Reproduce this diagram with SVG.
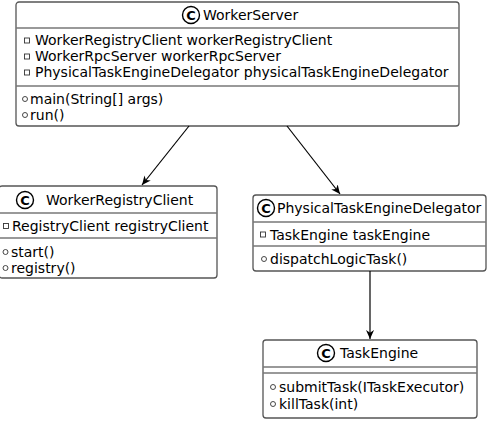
<svg xmlns="http://www.w3.org/2000/svg" width="499" height="422" viewBox="0 0 499 422">
<defs>
<style>
.box{fill:#fff;stroke:#555;stroke-width:1.3}
.div{stroke:#777;stroke-width:1.3}
text{font-family:"DejaVu Sans","Verdana",sans-serif;font-size:14px;fill:#000}
.ic{fill:none;stroke:#000;stroke-width:1.4}
.fi{fill:none;stroke:#333;stroke-width:0.9}
.mi{fill:none;stroke:#333;stroke-width:0.9}
.cl{font-weight:bold;font-size:13px}
.edge{stroke:#000;stroke-width:1.2;fill:none}
</style>
<marker id="arr" viewBox="0 0 10 10" refX="10" refY="5" markerWidth="9" markerHeight="9" orient="auto" markerUnits="userSpaceOnUse">
<path d="M0,0.5 L10,5 L0,9.5 L3,5 z" fill="#000"/>
</marker>
</defs>
<g id="WorkerServer">
<rect class="box" x="16" y="2" width="443" height="124" rx="3"/>
<line class="div" x1="16" y1="28" x2="459" y2="28"/>
<line class="div" x1="16" y1="86" x2="459" y2="86"/>
<circle class="ic" cx="191" cy="15" r="8.5"/>
<text class="cl" x="191" y="19.5" text-anchor="middle">C</text>
<text x="203" y="20">WorkerServer</text>
<rect class="fi" x="24.5" y="38" width="5" height="5"/>
<text x="35" y="45">WorkerRegistryClient workerRegistryClient</text>
<rect class="fi" x="24.5" y="54" width="5" height="5"/>
<text x="35" y="61">WorkerRpcServer workerRpcServer</text>
<rect class="fi" x="24.5" y="70" width="5" height="5"/>
<text x="35" y="77">PhysicalTaskEngineDelegator physicalTaskEngineDelegator</text>
<circle class="mi" cx="25" cy="99" r="2.5"/>
<text x="30" y="104">main(String[] args)</text>
<circle class="mi" cx="25" cy="115" r="2.5"/>
<text x="30" y="120">run()</text>
</g>
<g id="WorkerRegistryClient">
<rect class="box" x="-1" y="186" width="218" height="92" rx="3"/>
<line class="div" x1="-1" y1="213" x2="217" y2="213"/>
<line class="div" x1="-1" y1="238" x2="217" y2="238"/>
<circle class="ic" cx="25" cy="200" r="8.5"/>
<text class="cl" x="25" y="204.5" text-anchor="middle">C</text>
<text x="46" y="205">WorkerRegistryClient</text>
<rect class="fi" x="3.5" y="223.5" width="5" height="5"/>
<text x="12" y="231">RegistryClient registryClient</text>
<circle class="mi" cx="5.5" cy="252" r="2.5"/>
<text x="11" y="257">start()</text>
<circle class="mi" cx="5.5" cy="268" r="2.5"/>
<text x="11" y="273">registry()</text>
</g>
<g id="PhysicalTaskEngineDelegator">
<rect class="box" x="253" y="195" width="233" height="76" rx="3"/>
<line class="div" x1="253" y1="222" x2="486" y2="222"/>
<line class="div" x1="253" y1="246" x2="486" y2="246"/>
<circle class="ic" cx="266" cy="208" r="8.5"/>
<text class="cl" x="266" y="212.5" text-anchor="middle">C</text>
<text x="277" y="213">PhysicalTaskEngineDelegator</text>
<rect class="fi" x="260.5" y="232" width="5" height="5"/>
<text x="270" y="240">TaskEngine taskEngine</text>
<circle class="mi" cx="264" cy="259" r="2.5"/>
<text x="270" y="264">dispatchLogicTask()</text>
</g>
<g id="TaskEngine">
<rect class="box" x="263" y="340" width="214" height="78" rx="3"/>
<line class="div" x1="263" y1="367" x2="477" y2="367"/>
<line class="div" x1="263" y1="373" x2="477" y2="373"/>
<circle class="ic" cx="326" cy="353" r="8.5"/>
<text class="cl" x="326" y="357.5" text-anchor="middle">C</text>
<text x="340" y="358">TaskEngine</text>
<circle class="mi" cx="273" cy="387" r="2.5"/>
<text x="279" y="392">submitTask(ITaskExecutor)</text>
<circle class="mi" cx="273" cy="404" r="2.5"/>
<text x="279" y="409">killTask(int)</text>
</g>
<g id="connectors">
<line class="edge" x1="189" y1="126" x2="142" y2="185" marker-end="url(#arr)"/>
<line class="edge" x1="287" y1="126" x2="340" y2="194" marker-end="url(#arr)"/>
<line class="edge" x1="370" y1="271" x2="370" y2="339" marker-end="url(#arr)"/>
</g>
</svg>
